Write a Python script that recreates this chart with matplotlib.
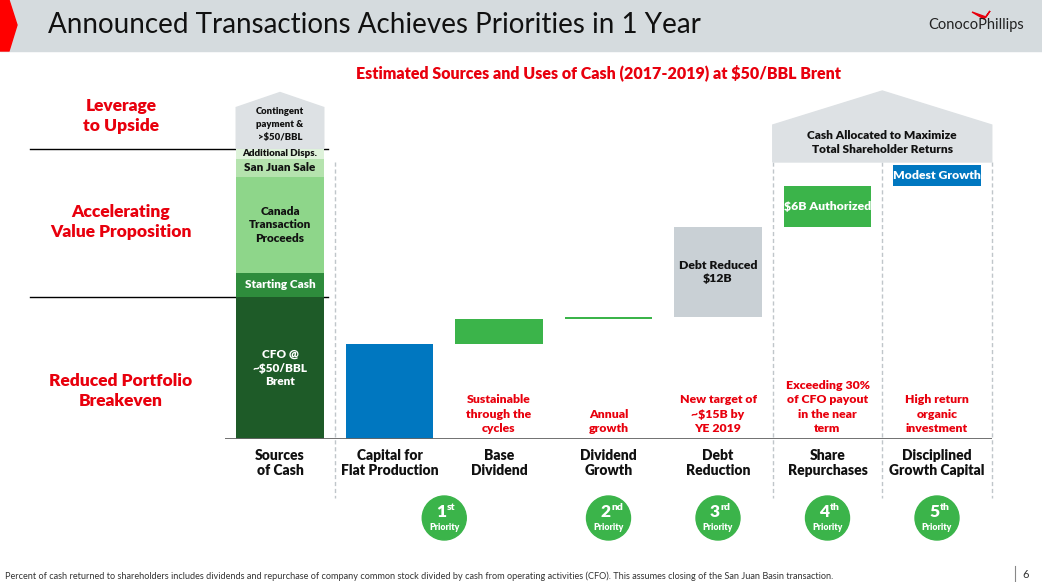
import numpy as np
import matplotlib
matplotlib.use("Agg")
import matplotlib.pyplot as plt
from matplotlib.patches import Polygon, Rectangle, Circle

plt.rcParams['font.family'] = ['Lato', 'DejaVu Sans']

RED = "#e8000d"
BOLD = "heavy"

# ---- data ($B) ----
categories = ["Sources\nof Cash", "Capital for\nFlat Production", "Base\nDividend",
              "Dividend\nGrowth", "Debt\nReduction", "Share\nRepurchases",
              "Disciplined\nGrowth Capital"]

source_labels = ["CFO @\n~$50/BBL\nBrent", "Starting Cash", "Canada\nTransaction\nProceeds",
                 "San Juan Sale", "Additional Disps."]
source_values = [18.9, 3.3, 12.7, 2.5, 1.3]
source_colors = ["#1e5b28", "#2e8c3c", "#8ed68a", "#b5e3ae", "#def2da"]
source_text_colors = ["white", "white", "#111111", "#111111", "#111111"]
contingent_value = 5.5
contingent_label = "Contingent\npayment &\n>$50/BBL"

use_values = [12.7, 3.3, 0.3, 12.0, 5.5, 2.8]
use_colors = ["#0077c0", "#3bb44a", "#3bb44a", "#c9d0d5", "#3bb44a", "#0077c0"]
use_labels = ["", "", "", "Debt Reduced\n$12B", "$6B Authorized", "Modest Growth"]
use_text_colors = ["white", "white", "white", "#111111", "white", "white"]

notes = ["", "Sustainable\nthrough the\ncycles", "Annual\ngrowth",
         "New target of\n~$15B by\nYE 2019", "Exceeding 30%\nof CFO payout\nin the near\nterm",
         "High return\norganic\ninvestment"]

priority_pos = [1.5, 3, 4, 5, 6]
priority_num = ["1", "2", "3", "4", "5"]
priority_suffix = ["st", "nd", "rd", "th", "th"]

# ---- figure ----
W, H = 1042, 582
fig = plt.figure(figsize=(W / 100, H / 100), dpi=100)

# overlay axes in pixel coordinates for slide decorations
ov = fig.add_axes([0, 0, 1, 1])
ov.set_xlim(0, W)
ov.set_ylim(H, 0)
ov.axis("off")

# header band
ov.add_patch(Rectangle((0, 0), W, 51, color="#d5dbde", zorder=0))
ov.add_patch(Polygon([(0, 0), (9, 0), (17, 25), (9, 51), (0, 51)], color="#ff0000", zorder=1))
ov.text(48, 25, "Announced Transactions Achieves Priorities in 1 Year", fontsize=20,
        va="center", ha="left", color="#111111")
ov.text(1024, 25, "ConocoPhillips", fontsize=10.5, va="center", ha="right", color="#222222")
ov.add_patch(Polygon([(972, 12), (986, 17), (990, 11), (984, 19)], color="#e8000d"))

ov.text(599, 73, "Estimated Sources and Uses of Cash (2017-2019) at $50/BBL Brent",
        fontsize=11.5, fontweight=BOLD, color=RED, ha="center", va="center")

# left side labels
for ytxt, txt in [(116, "Leverage\nto Upside"), (222, "Accelerating\nValue Proposition"),
                  (391, "Reduced Portfolio\nBreakeven")]:
    ov.text(121, ytxt, txt, fontsize=12.5, fontweight=BOLD, color=RED,
            ha="center", va="center", linespacing=1.3)

# footnote and page number
ov.text(5, 576, "Percent of cash returned to shareholders includes dividends and repurchase of company "
        "common stock divided by cash from operating activities (CFO). This assumes closing of the "
        "San Juan Basin transaction.", fontsize=6.6, color="#333333", va="center", ha="left")
ov.plot([1015, 1015], [566, 582], color="#888888", lw=0.8)
ov.text(1022, 575, "6", fontsize=8, color="#333333", va="center", ha="left")

# ---- data axes: x = category index, y = $B ----
px_per_b = 7.5
left_px, right_px, base_px, top_px = 225.25, 991.75, 439, 88
ax = fig.add_axes([left_px / W, (H - base_px) / H, (right_px - left_px) / W,
                   (base_px - top_px) / H])
ax.set_xlim(-0.5, 6.5)
ax.set_ylim(0, (base_px - top_px) / px_per_b)
ax.patch.set_alpha(0)
for s in ax.spines.values():
    s.set_visible(False)
ax.set_yticks([])

bw = 0.8
# sources stack
bottoms = np.concatenate([[0], np.cumsum(source_values)[:-1]])
ax.bar(0, source_values, bottom=bottoms, width=bw, color=source_colors, zorder=2)
lab_size = [8.5, 8.5, 8.5, 8.5, 7]
for v, b, lab, tc, fs in zip(source_values, bottoms, source_labels, source_text_colors, lab_size):
    ax.text(0, b + v / 2, lab, ha="center", va="center", color=tc, fontsize=fs,
            fontweight=BOLD, linespacing=1.3, zorder=3)
total_src = sum(source_values)
# contingent block with roof
roof = 2.0
ax.add_patch(Polygon([(-bw / 2, total_src), (bw / 2, total_src), (bw / 2, total_src + contingent_value),
                      (0, total_src + contingent_value + roof), (-bw / 2, total_src + contingent_value)],
                     closed=True, color="#dde1e4", zorder=1))
ax.text(0, total_src + contingent_value / 2 + 0.5, contingent_label, ha="center", va="center",
        fontsize=6.8, fontweight=BOLD, color="#111111", linespacing=1.6)

# uses waterfall
use_x = np.arange(1, len(categories))
use_bottoms = np.concatenate([[0], np.cumsum(use_values)[:-1]])
ax.bar(use_x, use_values, bottom=use_bottoms, width=bw, color=use_colors, zorder=2)
for x, v, b, lab, tc in zip(use_x, use_values, use_bottoms, use_labels, use_text_colors):
    if lab:
        ax.text(x, b + v / 2, lab, ha="center", va="center", color=tc, fontsize=8.8,
                fontweight=BOLD, linespacing=1.25, zorder=3)
for x, n in zip(use_x, notes):
    if n:
        ax.text(x, 0.7, n, ha="center", va="bottom", color=RED, fontsize=8.8,
                fontweight=BOLD, linespacing=1.35)

# shareholder-returns roof spanning the last two columns
roof_base = (base_px - 162) / px_per_b
roof_sh = (base_px - 125) / px_per_b
roof_pk = (base_px - 91) / px_per_b
ax.add_patch(Polygon([(4.5, roof_base), (6.5, roof_base), (6.5, roof_sh), (5.5, roof_pk), (4.5, roof_sh)],
                     closed=True, color="#dde1e4", zorder=1, clip_on=False))
ax.text(5.5, (roof_base + roof_sh) / 2 + 0.1, "Cash Allocated to Maximize\nTotal Shareholder Returns",
        ha="center", va="center", fontsize=8.6, fontweight=BOLD, color="#111111", linespacing=1.3)

# baseline
ax.axhline(0, color="#666666", lw=1.3, zorder=4)

# category labels
ax.set_xticks(np.arange(len(categories)))
ax.set_xticklabels(categories, fontsize=10, fontweight=BOLD, color="#111111", linespacing=1.25)
ax.tick_params(axis="x", length=0, pad=7)

# dashed separators
for xd in [0.5, 4.5, 5.5, 6.5]:
    xp = left_px + (xd + 0.5) * (right_px - left_px) / 7
    ov.plot([xp, xp], [162, 498], color="#c0c6ca", lw=1, ls=(0, (3, 2)), zorder=0)

# horizontal separators on the left
for ysep in [total_src, source_values[0]]:
    yp = base_px - ysep * px_per_b
    ov.plot([30, 328], [yp, yp], color="black", lw=1, zorder=5)

# priority circles
for p, num, suf in zip(priority_pos, priority_num, priority_suffix):
    cx = left_px + (p + 0.5) * (right_px - left_px) / 7
    ov.add_patch(Circle((cx, 518), 22, color="#3bb44a", zorder=3))
    ov.text(cx - 3, 512, num, fontsize=12.5, fontweight=BOLD, color="white",
            ha="center", va="center", zorder=4)
    ov.text(cx + 2.5, 507, suf, fontsize=7.5, fontweight=BOLD, color="white",
            ha="left", va="center", zorder=4)
    ov.text(cx, 527, "Priority", fontsize=6.3, fontweight=BOLD, color="white",
            ha="center", va="center", zorder=4)

fig.savefig("out.png", dpi=100)
